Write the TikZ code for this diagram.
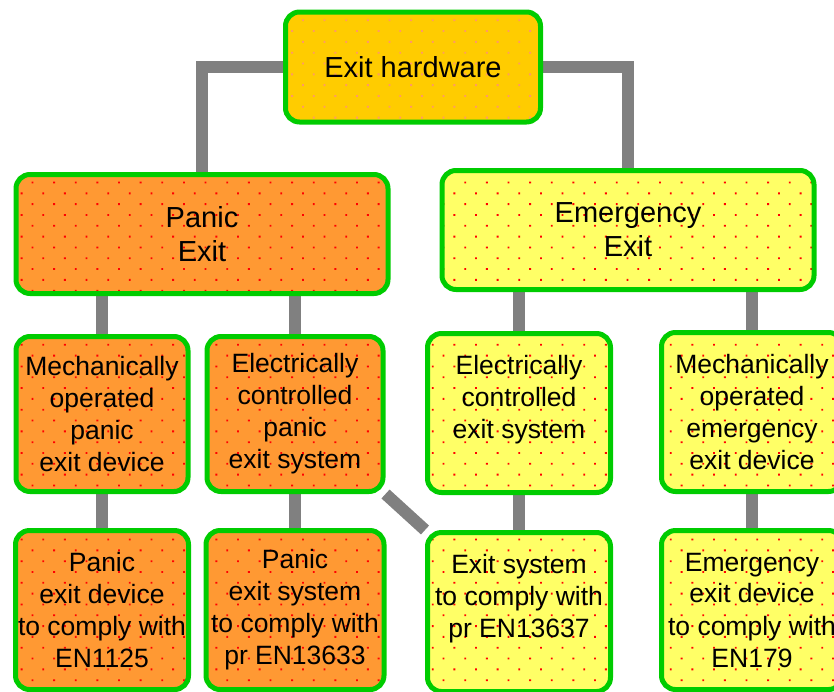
\documentclass[tikz,border=0pt]{standalone}
\usepackage{fontspec}
\setmainfont{Liberation Sans}
\usetikzlibrary{patterns.meta,backgrounds}
\definecolor{boxgreen}{HTML}{00CC00}
\definecolor{hwgold}{HTML}{FFCC00}
\definecolor{hwdots}{HTML}{FF9966}
\definecolor{panicorange}{HTML}{FF9933}
\definecolor{emergyellow}{HTML}{FFFF66}
\definecolor{linkgray}{HTML}{808080}
\tikzset{
	box/.style={draw=boxgreen, line width=5pt, rounded corners=14pt, align=center, inner sep=0pt,
		pattern={Dots[radius=1.3pt, distance=15.3pt, angle=45]}, pattern color=red,
		font=\fontsize{26.5}{32}\selectfont},
	bigtext/.style={font=\fontsize{29}{34}\selectfont},
	topbox/.style={box, bigtext, preaction={fill=hwgold}, pattern color=hwdots},
	panicbox/.style={box, preaction={fill=panicorange}},
	emergbox/.style={box, preaction={fill=emergyellow}},
	link/.style={draw=linkgray, line width=12pt}
}
\begin{document}
\begin{tikzpicture}[x=1pt, y=-1pt]
		\useasboundingbox (0,0) rectangle (834,691);

		\node[topbox, minimum width=255pt, minimum height=110pt] (hw) at (413,67) {Exit hardware};

		\node[panicbox, bigtext, minimum width=372pt, minimum height=119pt] (panic) at (202,234) {Panic\\Exit};
		\node[emergbox, bigtext, minimum width=372pt, minimum height=119pt] (emerg) at (628,230) {Emergency\\Exit};

		\node[panicbox, minimum width=172pt, minimum height=155pt] (mechp) at (102,414) {Mechanically\\operated\\panic\\exit device};
		\node[panicbox, minimum width=176pt, minimum height=155pt] (elecp) at (295,414) {Electrically\\controlled\\panic\\exit system};
		\node[emergbox, minimum width=183pt, minimum height=159pt] (elecs) at (519,413) {Electrically\\controlled\\exit system\\\mbox{}};
		\node[emergbox, minimum width=181pt, minimum height=159pt] (meche) at (752,412) {Mechanically\\operated\\emergency\\exit device};

		\node[panicbox, minimum width=173pt, minimum height=159pt] (pdev) at (102,610) {Panic\\exit device\\to comply with\\EN1125};
		\node[panicbox, minimum width=178pt, minimum height=159pt] (psys) at (295,610) {Panic\\exit system\\to comply with\\pr EN13633};
		\node[emergbox, minimum width=183pt, minimum height=159pt] (esys) at (519,612) {Exit system\\to comply with\\pr EN13637\\\mbox{}};
		\node[emergbox, minimum width=181pt, minimum height=159pt] (edev) at (752,610) {Emergency\\exit device\\to comply with\\EN179};

		\begin{scope}[on background layer]
			\draw[link] (hw.west) -| (panic.north);
			\draw[link] (hw.east) -| (emerg.north);
			\draw[link] (panic.south -| mechp.north) -- (mechp.north);
			\draw[link] (panic.south -| elecp.north) -- (elecp.north);
			\draw[link] (emerg.south -| elecs.north) -- (elecs.north);
			\draw[link] (emerg.south -| meche.north) -- (meche.north);
			\draw[link] (mechp) -- (pdev);
			\draw[link] (elecp) -- (psys);
			\draw[link] (elecs) -- (esys);
			\draw[link] (meche) -- (edev);
			\draw[link] (elecp.south east) -- (esys.north west);
		\end{scope}

	\end{tikzpicture}
\end{document}
